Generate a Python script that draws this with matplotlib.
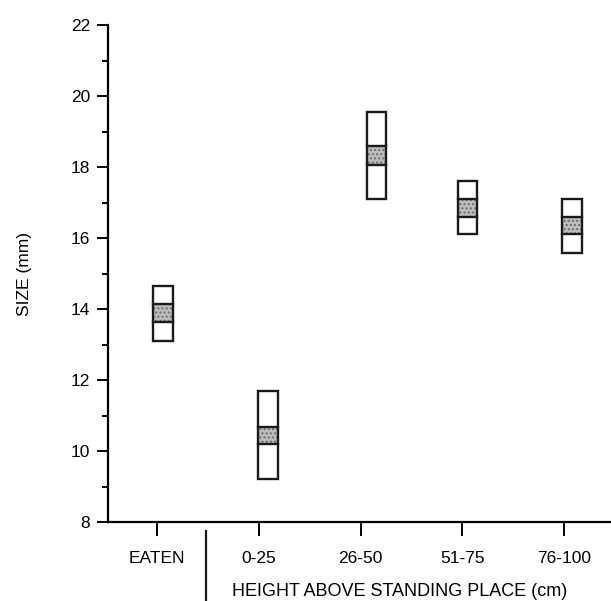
import matplotlib
matplotlib.use("Agg")
import matplotlib.pyplot as plt
from matplotlib.patches import Rectangle

plt.rcParams['font.family'] = ['Liberation Sans', 'DejaVu Sans']

# ------------------------------------------------ dados
categorias = ['EATEN', '0-25', '26-50', '51-75', '76-100']
minimo = [13.1, 9.2, 17.1, 16.12, 15.58]
maximo = [14.65, 11.7, 19.55, 17.6, 17.1]
faixa_baixo = [13.62, 10.2, 18.05, 16.6, 16.1]
faixa_alto = [14.14, 10.68, 18.58, 17.09, 16.58]

# deslocamento das caixas em relacao aos ticks (layout)
desloc = [0.06, 0.09, 0.16, 0.05, 0.08]
largura = 0.19

fig = plt.figure(figsize=(6.11, 6.01), dpi=100)
ax = fig.add_axes([108 / 611, 1 - 522 / 601, 1 - 108 / 611, 497 / 601])

for i in range(len(categorias)):
    x0 = i + desloc[i] - largura / 2
    # faixa pontilhada
    ax.add_patch(Rectangle((x0, faixa_baixo[i]), largura, faixa_alto[i] - faixa_baixo[i],
                           facecolor='#bdbdbd', edgecolor='#6e6e6e', hatch='....', lw=0))
    # caixa externa
    ax.add_patch(Rectangle((x0, minimo[i]), largura, maximo[i] - minimo[i],
                           facecolor='none', edgecolor='#1a1a1a', lw=1.7))
    ax.plot([x0, x0 + largura], [faixa_baixo[i], faixa_baixo[i]], color='#1a1a1a', lw=1.7)
    ax.plot([x0, x0 + largura], [faixa_alto[i], faixa_alto[i]], color='#1a1a1a', lw=1.7)

ax.set_xlim((108 - 157) / 101.75, (611 - 157) / 101.75)
ax.set_ylim(8, 22)

ax.spines['top'].set_visible(False)
ax.spines['right'].set_visible(False)
ax.spines['left'].set_linewidth(1.6)
ax.spines['bottom'].set_linewidth(1.6)

ax.set_yticks(range(8, 23, 2))
ax.set_yticks(range(9, 22, 2), minor=True)
ax.tick_params(axis='y', which='major', length=8, width=1.4, pad=5, labelsize=12.5)
ax.tick_params(axis='y', which='minor', length=4, width=1.4)

ax.set_xticks(range(len(categorias)))
ax.set_xticklabels(categorias)
ax.tick_params(axis='x', which='major', length=10, width=1.4, pad=11, labelsize=12.5)

ax.set_ylabel('SIZE (mm)', fontsize=12.5, labelpad=28)

# linha separadora entre EATEN e as alturas
ax.plot([0.48, 0.48], [-0.018, -0.16], color='#1a1a1a', lw=1.6,
        transform=ax.get_xaxis_transform(), clip_on=False)

fig.text(400 / 611, 1 - 591 / 601, 'HEIGHT ABOVE STANDING PLACE (cm)',
         ha='center', va='center', fontsize=13)

fig.savefig('out.png', dpi=100)
